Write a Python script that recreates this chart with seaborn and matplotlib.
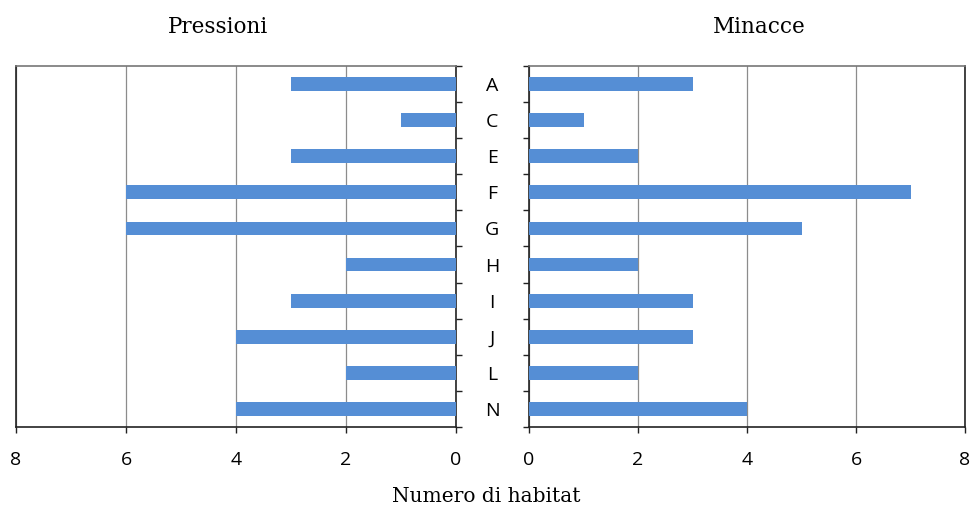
import matplotlib
matplotlib.use("Agg")
import matplotlib.pyplot as plt
import seaborn as sns
import pandas as pd
import numpy as np

categories = ["A", "C", "E", "F", "G", "H", "I", "J", "L", "N"]
pressioni = [3, 1, 3, 6, 6, 2, 3, 4, 2, 4]
minacce = [3, 1, 2, 7, 5, 2, 3, 3, 2, 4]
xticks = [0, 2, 4, 6, 8]

sns.set_style("white")
plt.rcParams['font.family'] = ['Open Sans', 'DejaVu Sans']
plt.rcParams['text.color'] = 'black'
plt.rcParams['xtick.color'] = 'black'
plt.rcParams['ytick.color'] = 'black'

fig = plt.figure(figsize=(9.72, 5.09), dpi=100)
W, H = 972, 509
def rect(x0, y0, x1, y1):
    return [x0 / W, 1 - y1 / H, (x1 - x0) / W, (y1 - y0) / H]

axL = fig.add_axes(rect(16, 66, 456, 427))
axR = fig.add_axes(rect(529, 66, 965, 427))

bar_color = "#558ed5"
dfL = pd.DataFrame({"cat": categories, "val": pressioni})
dfR = pd.DataFrame({"cat": categories, "val": minacce})

sns.barplot(data=dfL, x="val", y="cat", orient="h", ax=axL, color=bar_color,
            width=0.38, saturation=1, zorder=3, linewidth=0)
sns.barplot(data=dfR, x="val", y="cat", orient="h", ax=axR, color=bar_color,
            width=0.38, saturation=1, zorder=3, linewidth=0)

n = len(categories)
for ax in (axL, axR):
    ax.set_ylim(n - 0.5, -0.5)
    ax.set_xticks(xticks)
    ax.set_xticklabels([str(t) for t in xticks])
    ax.grid(axis="x", color="#8c8c8c", linewidth=0.9, zorder=0)
    ax.grid(axis="y", visible=False)
    ax.set_xlabel("")
    ax.set_ylabel("")
    for s in ax.spines.values():
        s.set_visible(True)
        s.set_color("#222222")
        s.set_linewidth(1.2)
    ax.spines["top"].set_color("#777777")
    ax.tick_params(axis="x", direction="out", length=4, width=1, color="#222222",
                   labelsize=14, pad=13, bottom=True, labelcolor="black")
    ax.set_yticks(np.arange(-0.5, n, 1.0), minor=True)

axL.set_xlim(8, 0)
axR.set_xlim(0, 8)

# left panel: category labels on the right side, centered between panels
axL.yaxis.tick_right()
axL.set_yticks(range(n))
axL.set_yticklabels(categories)
axL.tick_params(axis="y", which="major", length=0, pad=26, labelsize=14,
                labelcolor="black")
for lab in axL.get_yticklabels():
    lab.set_horizontalalignment("center")
axL.tick_params(axis="y", which="minor", right=True, left=False, direction="out",
                length=4, width=1, color="#222222")

axR.set_yticks([])
axR.set_yticks(np.arange(-0.5, n, 1.0), minor=True)
axR.tick_params(axis="y", which="minor", left=True, right=False, direction="out",
                length=4, width=1, color="#222222")

fig.text(218 / W, 1 - 27 / H, "Pressioni", family="DejaVu Serif", fontsize=15.5,
         ha="center", va="center", color="black")
fig.text(759 / W, 1 - 27 / H, "Minacce", family="DejaVu Serif", fontsize=15.5,
         ha="center", va="center", color="black")
fig.text(486 / W, 1 - 497 / H, "Numero di habitat", family="DejaVu Serif",
         fontsize=14.5, ha="center", va="center", color="black")

fig.savefig("out.png", dpi=100)
